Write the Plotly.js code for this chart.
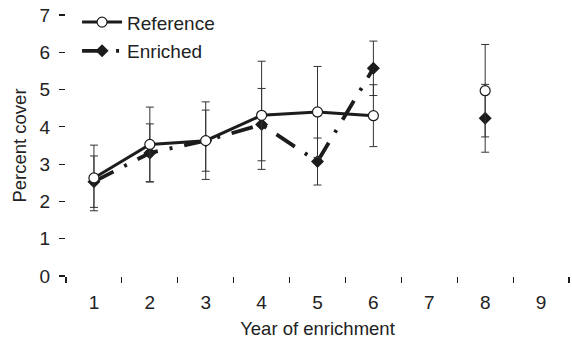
<!DOCTYPE html>
<html>
<head>
<meta charset="utf-8">
<script src="https://cdn.plot.ly/plotly-3.0.1.min.js"></script>
<style>html,body{margin:0;padding:0;background:#fff;}#chart{width:572px;height:343px;}</style>
</head>
<body>
<div id="chart"></div>
<script>
// Data (null = no observation in year 7)
var years = [1, 2, 3, 4, 5, 6, 7, 8];
var referenceCover = [2.63, 3.53, 3.63, 4.31, 4.40, 4.30, null, 4.97];
var referenceErr   = [0.88, 1.00, 1.04, 1.45, 1.22, 0.83, null, 1.24];
var enrichedCover  = [2.53, 3.30, 3.63, 4.06, 3.07, 5.57, null, 4.23];
var enrichedErr    = [0.69, 0.78, 0.82, 0.97, 0.63, 0.73, null, 0.91];
var xTickVals = [1, 2, 3, 4, 5, 6, 7, 8, 9];
var xTickText = ['1', '2', '3', '4', '5', '6', '7', '8', '9'];
var xBoundaries = [0.5, 1.5, 2.5, 3.5, 4.5, 5.5, 6.5, 7.5, 8.5, 9.5];
var yTickVals = [0, 1, 2, 3, 4, 5, 6, 7];

var FONT = 'Liberation Sans, Arial, Helvetica, sans-serif';
var INK = '#1c1c1c';

var traces = [
  {
    name: 'Reference', x: years, y: referenceCover, type: 'scatter', mode: 'lines+markers',
    connectgaps: false, zorder: 2, legendgroup: 'a',
    line: {color: INK, width: 3},
    marker: {symbol: 'circle', size: 10, color: '#fff', line: {color: INK, width: 1.2}},
    error_y: {type: 'data', array: referenceErr, visible: true, color: '#333', thickness: 1, width: 4}
  },
  {
    name: 'Enriched', x: years, y: enrichedCover, type: 'scatter', mode: 'lines+markers',
    connectgaps: false, zorder: 1, legendgroup: 'b',
    line: {color: INK, width: 3.8, dash: '22px,12px,3px,12px'},
    marker: {symbol: 'diamond', size: 10, color: INK},
    error_y: {type: 'data', array: enrichedErr, visible: true, color: '#333', thickness: 1, width: 4}
  }
];

var layout = {
  width: 572, height: 343,
  margin: {l: 66, r: 3, t: 15, b: 66.5},
  paper_bgcolor: '#fff', plot_bgcolor: '#fff',
  font: {family: FONT, size: 19, color: '#222'},
  showlegend: true,
  legend: {
    x: 0.022, xanchor: 'left', y: 1.045, yanchor: 'top',
    bgcolor: 'rgba(0,0,0,0)', borderwidth: 0,
    font: {family: FONT, size: 19, color: '#222'},
    itemwidth: 40, traceorder: 'grouped', tracegroupgap: 1
  },
  xaxis: {
    range: [0.5, 9.5], tickmode: 'array', tickvals: xTickVals, ticktext: xTickText,
    ticks: '', showgrid: false, zeroline: false,
    showline: true, linecolor: INK, linewidth: 1.2,
    ticklabelstandoff: 9,
    tickfont: {family: FONT, size: 19, color: '#222'},
    minor: {tickmode: 'array', tickvals: xBoundaries, ticks: 'outside', ticklen: 6, tickwidth: 1.2, tickcolor: INK, showgrid: false},
    title: {text: 'Year of enrichment', font: {family: FONT, size: 18.5, color: '#222'}, standoff: 10}
  },
  yaxis: {
    range: [0, 7], tickmode: 'array', tickvals: yTickVals,
    ticks: 'outside', ticklen: 6, tickwidth: 1.2, tickcolor: INK,
    showgrid: false, zeroline: false,
    showline: true, linecolor: INK, linewidth: 1.2,
    ticklabelstandoff: 5,
    tickfont: {family: FONT, size: 19, color: '#222'},
    title: {text: 'Percent cover', font: {family: FONT, size: 18.5, color: '#222'}, standoff: 8}
  }
};

Plotly.newPlot('chart', traces, layout, {displayModeBar: false, staticPlot: true});
</script>
</body>
</html>
